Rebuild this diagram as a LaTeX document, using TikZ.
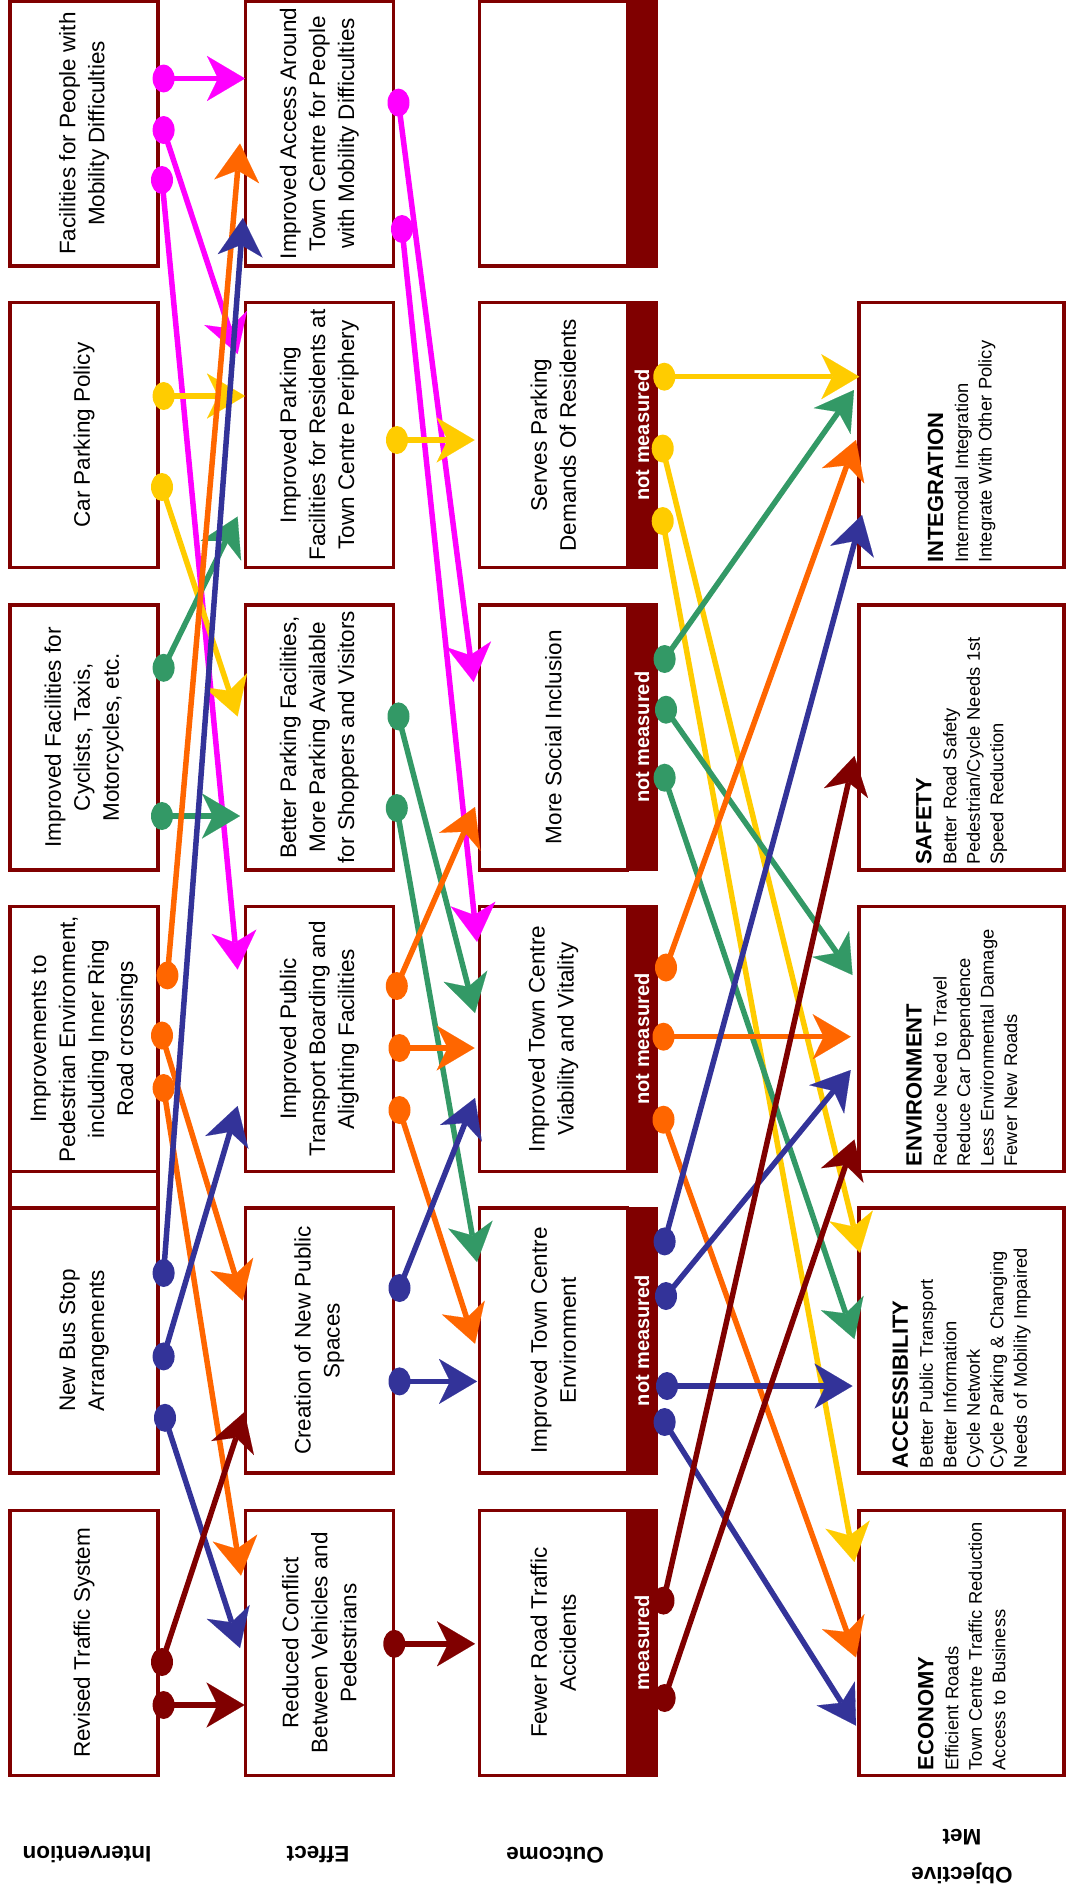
\documentclass[tikz,border=0pt]{standalone}
\usepackage{fontspec}
\setmainfont{Liberation Sans}
\usetikzlibrary{arrows.meta,shapes.geometric}
\definecolor{dred}{HTML}{800000}
\definecolor{mag}{HTML}{FF00FF}
\definecolor{org}{HTML}{FF6600}
\definecolor{blu}{HTML}{333399}
\definecolor{grn}{HTML}{339966}
\definecolor{ylw}{HTML}{FFCC00}
\newcommand\lk[4]{%
  \node[dotn, fill=#1] (#2) at (#3) {};
  \coordinate (#2t) at (#4);
  \draw[conn, #1] (#2.center) -- (#2t);}
\newcommand\hdr[1]{{\bfseries\fontsize{22}{23.5}\selectfont #1}\\[1.5pt]}
\begin{document}
\begin{tikzpicture}[x=1pt,y=-1pt,
  box/.style={draw=dred, line width=3.5pt, fill=white, rotate=90, minimum width=265pt, minimum height=148pt, inner sep=2pt, align=center, font=\fontsize{22.5}{29}\selectfont},
  obox/.style={draw=dred, line width=3.5pt, fill=white, rotate=90, minimum width=265pt, minimum height=205pt, inner xsep=5pt, inner ysep=2pt, text width=255pt, align=left, font=\fontsize{18.3}{23.5}\selectfont},
  bar/.style={fill=dred, rotate=90, minimum width=268pt, minimum height=32pt, inner sep=0pt, text=white, font=\bfseries\fontsize{20}{24}\selectfont},
  dotn/.style={ellipse, minimum width=22pt, minimum height=28pt, inner sep=0pt},
  conn/.style={line width=5.5pt, -{Stealth[length=38pt,width=45pt,inset=11pt,line width=0.1pt]}},
  lab/.style={rotate=180, font=\bfseries\fontsize{22.5}{38}\selectfont, align=center}
]
\fill[white] (0,0) rectangle (1067,1893);
\useasboundingbox (0,0) rectangle (1067,1893);

% Intervention column
\node[box] (i1) at (84.15,133.5) {Facilities for People with\\Mobility Difficulties};
\node[box] (i2) at (84.15,435) {Car Parking Policy};
\node[box] (i3) at (84.15,737.25) {Improved Facilities for\\Cyclists, Taxis,\\Motorcycles, etc.};
\node[box] (i4) at (84.15,1039) {Improvements to\\Pedestrian Environment,\\including Inner Ring\\Road crossings};
\draw[dred, line width=3.5pt] (10.15,1171.5) rectangle (158.15,1208);
\node[box] (i5) at (84.15,1340.5) {New Bus Stop\\Arrangements};
\node[box] (i6) at (84.15,1642.75) {Revised Traffic System};

% Effect column
\node[box] (e1) at (319.25,133.5) {Improved Access Around\\Town Centre for People\\with Mobility Difficulties};
\node[box] (e2) at (319.25,435) {Improved Parking\\Facilities for Residents at\\Town Centre Periphery};
\node[box] (e3) at (319.25,737.25) {Better Parking Facilities,\\More Parking Available\\for Shoppers and Visitors};
\node[box] (e4) at (319.25,1039) {Improved Public\\Transport Boarding and\\Alighting Facilities};
\node[box] (e5) at (319.25,1340.5) {Creation of New Public\\Spaces};
\node[box] (e6) at (319.25,1642.75) {Reduced Conflict\\Between Vehicles and\\Pedestrians};

% Outcome column
\node[box] (o1) at (553.25,133.5) {};
\node[box] (o2) at (553.25,435) {Serves Parking\\Demands Of Residents};
\node[box] (o3) at (553.25,737.25) {More Social Inclusion};
\node[box] (o4) at (553.25,1039) {Improved Town Centre\\Viability and Vitality};
\node[box] (o5) at (553.25,1340.5) {Improved Town Centre\\Environment};
\node[box] (o6) at (553.25,1642.75) {Fewer Road Traffic\\Accidents};
\node[bar] (b1) at (642,133.5) {};
\node[bar] (b2) at (642,435) {not measured};
\node[bar] (b3) at (642,737.25) {not measured};
\node[bar] (b4) at (642,1039) {not measured};
\node[bar] (b5) at (642,1340.5) {not measured};
\node[bar] (b6) at (642,1642.75) {measured};

% Objective column
\node[obox] (g2) at (961.65,435) {\hdr{INTEGRATION}Intermodal Integration\\Integrate With Other Policy};
\node[obox] (g3) at (961.65,737.25) {\hdr{SAFETY}Better Road Safety\\Pedestrian/Cycle Needs 1st\\Speed Reduction};
\node[obox] (g4) at (961.65,1039) {\hdr{ENVIRONMENT}Reduce Need to Travel\\Reduce Car Dependence\\Less Environmental Damage\\Fewer New Roads};
\node[obox] (g5) at (961.65,1340.5) {\hdr{ACCESSIBILITY}Better Public Transport\\Better Information\\Cycle Network\\Cycle Parking \& Changing\\Needs of Mobility Impaired};
\node[obox] (g6) at (961.65,1642.75) {\hdr{ECONOMY}Efficient Roads\\Town Centre Traffic Reduction\\Access to Business};

% Column labels
\node[lab] (lint) at (87,1855) {Intervention};
\node[lab] (leff) at (318,1855) {Effect};
\node[lab] (lout) at (555,1855) {Outcome};
\node[lab] (lobj) at (962,1857) {Objective\\Met};

% Magenta links
\lk{mag}{m1}{163.6,78.5}{245,78.5}
\lk{mag}{m2}{163.6,130}{237.6,354}
\lk{mag}{m3}{162,180}{237.6,969.5}
\lk{mag}{m4}{398.5,102.6}{473.6,682}
\lk{mag}{m5}{402,229}{477,941.8}

% Yellow links
\lk{ylw}{y1}{163.6,396}{245,396}
\lk{ylw}{y2}{162,487}{237.6,716.4}
\lk{ylw}{y3}{397,440}{474.6,440}
\lk{ylw}{y4}{664.3,376.7}{859.3,376.7}
\lk{ylw}{y5}{662.7,448.5}{860,1252.8}
\lk{ylw}{y6}{662.7,521}{854.4,1562}

% Green links
\lk{grn}{n1}{163.6,667.8}{237.6,516.6}
\lk{grn}{n2}{162,816}{240,816}
\lk{grn}{n3}{398.5,716.4}{475,1013}
\lk{grn}{n4}{396.8,808}{477,1262}
\lk{grn}{n5}{664.6,659}{854,390}
\lk{grn}{n6}{666,709.7}{852.5,975}
\lk{grn}{n7}{664.6,777.7}{854.4,1339}

% Orange links
\lk{org}{r1}{167.4,975.4}{240,143.5}
\lk{org}{r2}{162,1035.5}{242.8,1300.5}
\lk{org}{r3}{163.6,1088}{241,1575.6}
\lk{org}{r4}{396.8,986}{475,807}
\lk{org}{r5}{399.5,1048}{474.6,1048}
\lk{org}{r6}{399.5,1110}{475,1343.7}
\lk{org}{r7}{666,967.5}{856,440}
\lk{org}{r8}{663.5,1036.7}{850.7,1036.7}
\lk{org}{r9}{663.5,1119.7}{856,1657.4}

% Blue links
\lk{blu}{u1}{163.6,1273}{243,218}
\lk{blu}{u2}{163.6,1356.4}{237.6,1106}
\lk{blu}{u3}{165,1417.8}{240,1648}
\lk{blu}{u4}{399.5,1288}{475,1098}
\lk{blu}{u5}{399.5,1381.4}{477,1381.4}
\lk{blu}{u6}{664.6,1241.4}{862,515}
\lk{blu}{u7}{666,1296}{850.7,1070}
\lk{blu}{u8}{667,1386}{852.5,1386}
\lk{blu}{u9}{664.6,1422}{856,1725.6}

% Dark red links
\lk{dred}{d1}{162,1662}{244.5,1412}
\lk{dred}{d2}{163.6,1705}{244.5,1705}
\lk{dred}{d3}{394.3,1643.8}{475,1643.8}
\lk{dred}{d4}{663.5,1600.6}{854.4,756}
\lk{dred}{d5}{664.6,1698}{854.4,1139.5}
\end{tikzpicture}
\end{document}
